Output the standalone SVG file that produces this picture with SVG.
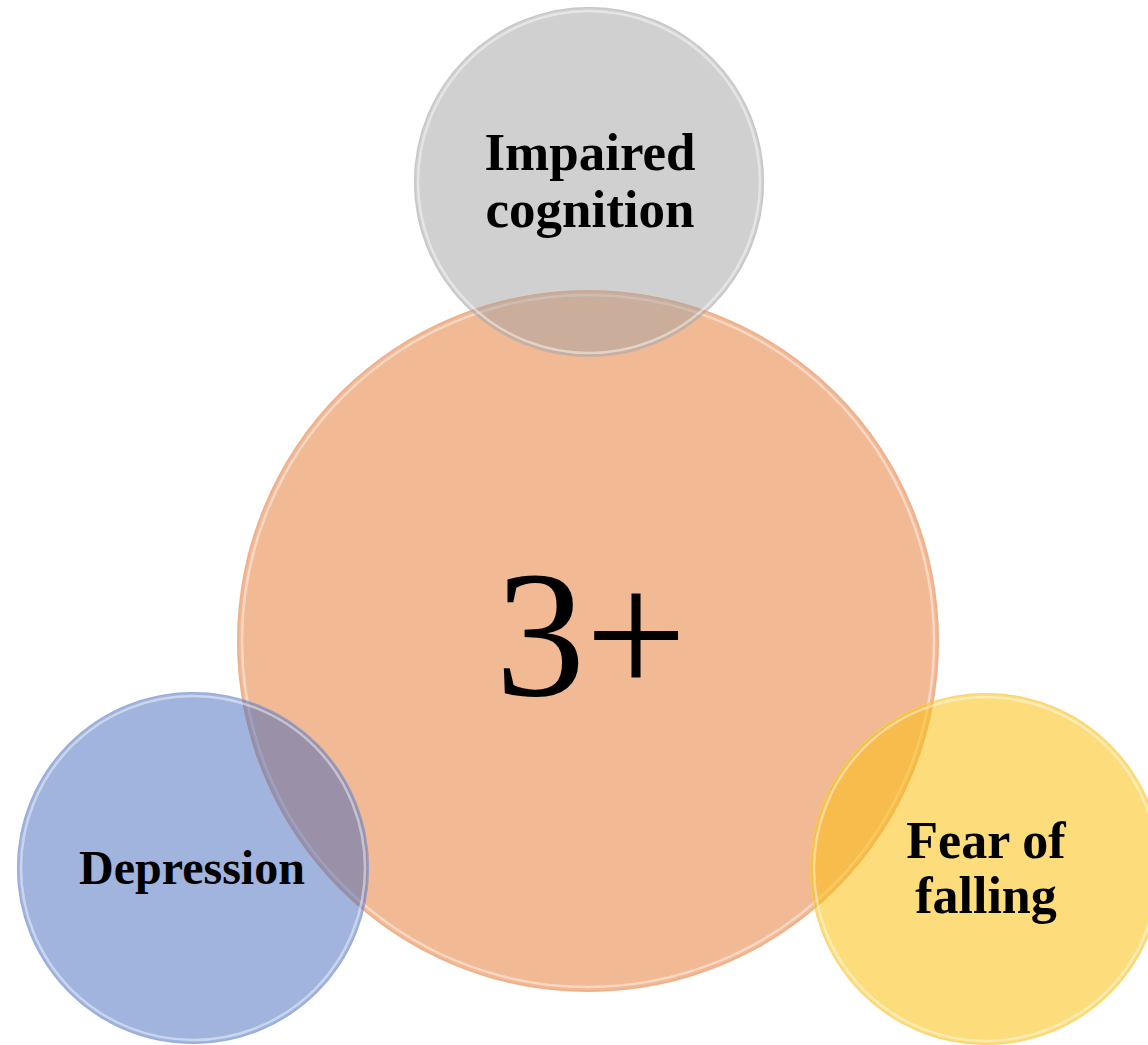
<svg xmlns="http://www.w3.org/2000/svg" width="1148" height="1045" viewBox="0 0 1148 1045">
<style>
.lbl{font-family:"Liberation Serif","Times New Roman",serif;font-weight:bold;fill:#000;text-anchor:middle}
.big{font-family:"Liberation Serif","Times New Roman",serif;font-weight:normal;fill:#000;text-anchor:middle}
.rim{fill:none;stroke:#ffffff;stroke-opacity:0.45;stroke-width:2.5}
</style>
<rect width="1148" height="1045" fill="#ffffff"/>
<g id="node-center">
  <circle cx="588" cy="641" r="351" fill="#f2b995"/>
  <circle cx="588" cy="641" r="350" fill="none" stroke="#eba47c" stroke-opacity="0.45" stroke-width="1.5"/>
  <circle cx="588" cy="641" r="346" class="rim" stroke-opacity="0.3"/>
  <text class="big" x="591" y="695" font-size="180">3+</text>
</g>
<g id="node-cognition">
  <circle cx="589" cy="182" r="175" fill="#a1a1a1" fill-opacity="0.5"/>
  <circle cx="589" cy="182" r="174.5" fill="none" stroke="#bcbcbc" stroke-opacity="0.5" stroke-width="1.2"/>
  <circle cx="589" cy="182" r="171" class="rim"/>
  <text class="lbl" x="590" y="170" font-size="53">Impaired</text>
  <text class="lbl" x="590" y="227" font-size="53">cognition</text>
</g>
<g id="node-depression">
  <circle cx="193" cy="868" r="176" fill="#4169bd" fill-opacity="0.5"/>
  <circle cx="193" cy="868" r="175.5" fill="none" stroke="#8ea6da" stroke-opacity="0.6" stroke-width="1.2"/>
  <circle cx="193" cy="868" r="172" class="rim"/>
  <text class="lbl" x="192" y="884" font-size="48">Depression</text>
</g>
<g id="node-fear">
  <circle cx="986" cy="869" r="176" fill="#fbbf11" fill-opacity="0.55"/>
  <circle cx="986" cy="869" r="175.5" fill="none" stroke="#f8d060" stroke-opacity="0.6" stroke-width="1.2"/>
  <circle cx="986" cy="869" r="172" class="rim"/>
  <text class="lbl" x="986" y="858" font-size="52">Fear of</text>
  <text class="lbl" x="986" y="913" font-size="52">falling</text>
</g>
<g id="connectors"></g>
</svg>
